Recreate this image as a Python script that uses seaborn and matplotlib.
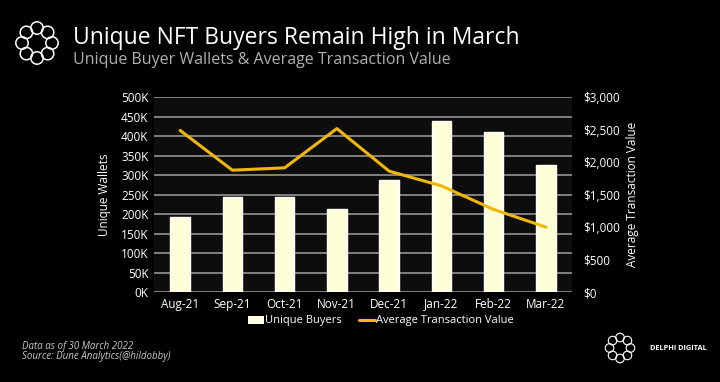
import numpy as np
import pandas as pd
import matplotlib
matplotlib.use("Agg")
import matplotlib.pyplot as plt
import seaborn as sns
from matplotlib.patches import Ellipse, Patch
from matplotlib.lines import Line2D

months = ["Aug-21", "Sep-21", "Oct-21", "Nov-21", "Dec-21", "Jan-22", "Feb-22", "Mar-22"]
unique_buyers = [192000, 243000, 244000, 214000, 287000, 439000, 412000, 326000]
avg_tx_value = [2490, 1877, 1913, 2518, 1862, 1636, 1272, 1000]
left_ticks = [0, 50000, 100000, 150000, 200000, 250000, 300000, 350000, 400000, 450000, 500000]
right_ticks = [0, 500, 1000, 1500, 2000, 2500, 3000]

BAR = "#FEFED8"
LINE = "#F2B705"
FONT = "Open Sans"

sns.set_theme(style="dark")
plt.rcParams["font.family"] = [FONT, "DejaVu Sans"]

fig = plt.figure(figsize=(7.2, 3.82), dpi=100, facecolor="black")
ax = fig.add_axes([154/720, 1-292/382, (572-154)/720, (292-97.3)/382])
ax.set_facecolor("#0d0d0d")

df = pd.DataFrame({"month": months, "buyers": unique_buyers, "avg": avg_tx_value})
sns.barplot(data=df, x="month", y="buyers", color=BAR, saturation=1, width=0.37, ax=ax, zorder=3)
ax.set_ylim(0, 500000)
ax.set_xlim(-0.5, 7.5)
ax.set_yticks(left_ticks)
ax.set_yticklabels([f"{int(v/1000)}K" for v in left_ticks])
ax.grid(axis="y", color="#8a8a8a", linewidth=1.3, zorder=0)
ax.grid(axis="x", visible=False)
ax.set_axisbelow(True)
for s in ax.spines.values():
    s.set_visible(False)
ax.tick_params(axis="both", colors="white", labelsize=8.5, length=0, pad=4)
ax.set_xlabel("")
ax.set_ylabel("Unique Wallets", color="white", fontsize=8.5, labelpad=7)

ax2 = ax.twinx()
sns.lineplot(x=np.arange(len(months)), y=avg_tx_value, color=LINE, linewidth=2.2, ax=ax2, zorder=5)
ax2.set_ylim(0, 3000)
ax2.set_yticks(right_ticks)
ax2.set_yticklabels([f"${v:,}" for v in right_ticks])
ax2.tick_params(axis="y", colors="white", labelsize=8.5, length=0, pad=8)
ax2.grid(False)
for s in ax2.spines.values():
    s.set_visible(False)
ax2.set_ylabel("Average Transaction Value", color="white", fontsize=8.5, labelpad=4)
ax2.set_xlim(-0.5, 7.5)

handles = [Patch(facecolor=BAR, edgecolor="none"), Line2D([0], [0], color=LINE, lw=2.2)]
leg = fig.legend(handles, ["Unique Buyers", "Average Transaction Value"], loc="center",
                 bbox_to_anchor=(381/720, 1-321/382), ncol=2, frameon=False, fontsize=8,
                 handlelength=1.4, handletextpad=0.1, columnspacing=1.6)
for t in leg.get_texts():
    t.set_color("white")

fig.text(73/720, 1-38/382, "Unique NFT Buyers Remain High in March", color="white",
         fontsize=16.5, va="center", ha="left")
fig.text(73/720, 1-60/382, "Unique Buyer Wallets & Average Transaction Value", color="#b0b0b0",
         fontsize=11.5, va="center", ha="left")

fig.text(22/720, 1-346/382, "Data as of 30 March 2022", color="#c8c8c8", fontsize=7,
         style="italic", va="center")
fig.text(22/720, 1-357/382, "Source: Dune Analytics(@hildobby)", color="#c8c8c8", fontsize=7,
         style="italic", va="center")
fig.text(650/720, 1-348/382, "DELPHI DIGITAL", color="white", fontsize=5.3, va="center",
         fontweight="bold")


def draw_logo(cx, cy, R, r, lw):
    W, H = 720, 382
    for k in range(8):
        a = np.pi / 2 + k * 2 * np.pi / 8
        x = cx + R * np.cos(a)
        y = cy + R * np.sin(a)
        e = Ellipse((x / W, 1 - y / H), 2 * r / W, 2 * r / H, transform=fig.transFigure,
                    facecolor="none", edgecolor="white", lw=lw)
        fig.add_artist(e)


draw_logo(37, 43, 15, 6.2, 1.1)
draw_logo(620, 348, 10.5, 4.3, 0.8)

fig.savefig("out.png", dpi=100, facecolor="black")
